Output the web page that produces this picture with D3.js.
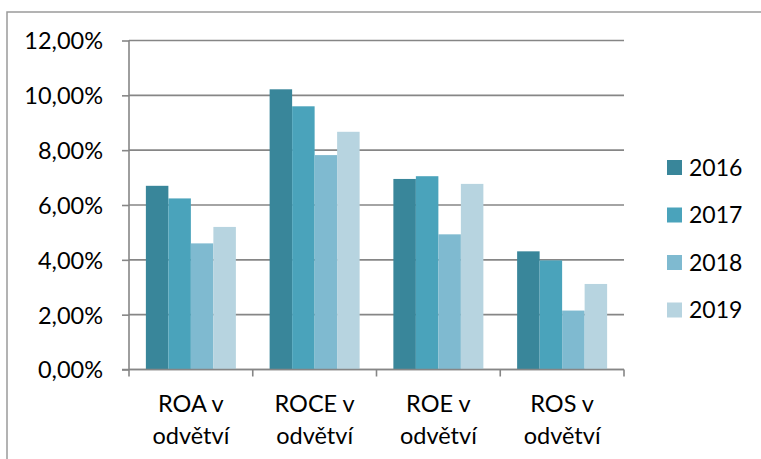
<!DOCTYPE html>
<html>
<head>
<meta charset="utf-8">
<script src="https://cdn.jsdelivr.net/npm/d3@7"></script>
<style>
  html, body { margin: 0; padding: 0; background: #fff; }
  svg { display: block; }
  text { font-family: Lato, "Open Sans", sans-serif; fill: #000; }
</style>
</head>
<body>
<svg id="chart" width="761" height="459"></svg>
<script>
// Ukazatele rentability v odvětví (v %)
const categories = [["ROA v", "odvětví"], ["ROCE v", "odvětví"], ["ROE v", "odvětví"], ["ROS v", "odvětví"]];
const years = ["2016", "2017", "2018", "2019"];
const values2016 = [6.70, 10.22, 6.95, 4.31];
const values2017 = [6.24, 9.60, 7.05, 3.98];
const values2018 = [4.60, 7.82, 4.93, 2.15];
const values2019 = [5.20, 8.67, 6.77, 3.12];
const yTicks = [0, 2, 4, 6, 8, 10, 12];
const colors = ["#39869A", "#4AA3BB", "#7FBAD0", "#B7D4E0"];

const seriesValues = [values2016, values2017, values2018, values2019];
const catKeys = categories.map(c => c.join(" "));

const svg = d3.select("#chart");
const plot = { left: 129, right: 624, top: 40.5, bottom: 369.5 };
const gridColor = "#868686";

// outer chart frame
svg.append("rect")
  .attr("x", 7).attr("y", 12)
  .attr("width", 800).attr("height", 500)
  .attr("fill", "none").attr("stroke", "#9a9a9a").attr("stroke-width", 1.5);

const y = d3.scaleLinear().domain([0, 12]).range([plot.bottom, plot.top]);
const x = d3.scaleBand().domain(catKeys).range([plot.left, plot.right]).padding(0);
const bw = x.bandwidth();
// gap width 150 % of a bar: 0.75 bar on each side of the cluster
const xIn = d3.scaleBand().domain(years)
  .range([bw * 0.75 / 5.5, bw - bw * 0.75 / 5.5]).padding(0);

// horizontal gridlines
svg.append("g").selectAll("line").data(yTicks).join("line")
  .attr("x1", plot.left).attr("x2", plot.right)
  .attr("y1", d => y(d)).attr("y2", d => y(d))
  .attr("stroke", gridColor).attr("stroke-width", 1.6);

// y axis
const yAxis = d3.axisLeft(y).tickValues(yTicks).tickSize(7)
  .tickFormat(d => d.toFixed(2).replace(".", ",") + "%");
const gy = svg.append("g").attr("transform", `translate(${plot.left},0)`).call(yAxis);
gy.select(".domain").attr("stroke", gridColor).attr("stroke-width", 1.6)
  .attr("d", `M0,${plot.top}V${plot.bottom}`);
gy.selectAll(".tick line").attr("stroke", gridColor).attr("stroke-width", 1.6);
gy.selectAll(".tick text")
  .attr("x", -26).attr("dy", "0.36em")
  .style("font-family", "Lato, 'Open Sans', sans-serif")
  .style("font-size", "23.5px").attr("fill", "#000");

// bars
const groups = svg.append("g").selectAll("g").data(catKeys).join("g")
  .attr("transform", d => `translate(${x(d)},0)`);
groups.selectAll("rect")
  .data((d, i) => years.map((yr, s) => ({ yr, v: seriesValues[s][i], s })))
  .join("rect")
  .attr("x", d => xIn(d.yr))
  .attr("width", xIn.bandwidth())
  .attr("y", d => y(d.v))
  .attr("height", d => y(0) - y(d.v))
  .attr("fill", d => colors[d.s]);

// x axis
const xAxis = d3.axisBottom(x).tickSize(0).tickFormat("");
const gx = svg.append("g").attr("transform", `translate(0,${plot.bottom})`).call(xAxis);
gx.select(".domain").attr("stroke", gridColor).attr("stroke-width", 1.6)
  .attr("d", `M${plot.left - 7},0H${plot.right}`);
gx.selectAll(".tick").remove();
const boundaries = catKeys.map(k => x(k)).concat([plot.right]);
gx.selectAll("line.cat").data(boundaries).join("line").attr("class", "cat")
  .attr("x1", d => d).attr("x2", d => d).attr("y1", 0).attr("y2", 7)
  .attr("stroke", gridColor).attr("stroke-width", 1.6);

// category labels (two lines)
const labels = svg.append("g").selectAll("text").data(categories).join("text")
  .attr("text-anchor", "middle")
  .style("font-size", "23.5px");
labels.each(function (d, i) {
  const cx = x(catKeys[i]) + bw / 2;
  d3.select(this).selectAll("tspan").data(d).join("tspan")
    .attr("x", cx)
    .attr("y", (t, j) => 412 + j * 31.5)
    .text(t => t);
});

// legend
const legend = svg.append("g").selectAll("g").data(years).join("g")
  .attr("transform", (d, i) => `translate(667,${167.5 + i * 47.5})`);
legend.append("rect")
  .attr("x", 0).attr("y", -7.5).attr("width", 15).attr("height", 15)
  .attr("fill", (d, i) => colors[i]);
legend.append("text")
  .attr("x", 22).attr("dy", "0.36em")
  .style("font-size", "23px")
  .text(d => d);
</script>
</body>
</html>
